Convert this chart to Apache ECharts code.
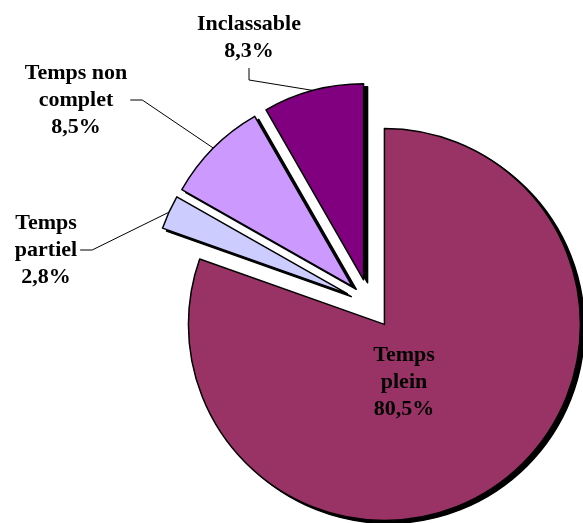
<!DOCTYPE html>
<html>
<head>
<meta charset="utf-8">
<style>html,body{margin:0;padding:0;background:#fff;}#c{width:583px;height:523px;}</style>
<script src="https://cdn.jsdelivr.net/npm/echarts@6/dist/echarts.min.js"></script>
</head>
<body>
<div id="c"></div>
<script>
const categories = ['Temps plein', 'Temps partiel', 'Temps non complet', 'Inclassable'];
const labelNames = ['Temps\nplein', 'Temps\npartiel', 'Temps non\ncomplet', 'Inclassable'];
const values = [80.5, 2.8, 8.5, 8.3];
const colors = ['#993366', '#CCCCFF', '#CC99FF', '#800080'];

// layout settings
const CX = 370, CY = 304, R = 196, EXPLODE = 25, SHX = 4, SHY = 3;
const labelPos = [[404, 382], [46, 250], [76, 100], [249, 38]];
const labelSide = ['inside', 'right', 'right', 'bottom'];
const LEN2 = 12;

const total = values.reduce((a, b) => a + b, 0);
let cum = 0;
const mids = values.map(v => { const m = (cum + v / 2) / total * 2 * Math.PI; cum += v; return m; });

function fmt(i) {
  return labelNames[i] + '\n' + values[i].toFixed(1).replace('.', ',') + '%';
}

function makeSeries(i, shadow) {
  const cx = CX + EXPLODE * Math.sin(mids[i]) + (shadow ? SHX : 0);
  const cy = CY - EXPLODE * Math.cos(mids[i]) + (shadow ? SHY : 0);
  return {
    type: 'pie',
    center: [cx, cy],
    radius: R,
    startAngle: 90,
    clockwise: true,
    silent: true,
    avoidLabelOverlap: false,
    emphasis: {disabled: true},
    label: {
      show: false,
      position: i === 0 ? 'inside' : 'outside',
      formatter: p => fmt(p.dataIndex),
      fontFamily: '"Liberation Serif", "Times New Roman", serif',
      fontWeight: 'bold',
      fontSize: 22,
      lineHeight: 27,
      color: '#000',
      align: 'center',
      padding: 3
    },
    labelLine: {
      show: false,
      length: 20,
      length2: LEN2,
      lineStyle: {color: '#000', width: 1}
    },
    labelLayout: p => {
      if (p.dataIndex !== i || shadow) return {};
      const x = labelPos[i][0], y = labelPos[i][1];
      const w = p.labelRect.width, h = p.labelRect.height;
      const out = {x: x, y: y, align: 'center', verticalAlign: 'middle'};
      if (p.labelLinePoints && labelSide[i] !== 'inside') {
        const p0 = p.labelLinePoints[0];
        let p1, p2;
        if (labelSide[i] === 'bottom') {
          p2 = [x, y + h / 2];
          p1 = [x, y + h / 2 + LEN2];
        } else {
          p2 = [x + w / 2, y];
          p1 = [x + w / 2 + LEN2, y];
        }
        out.labelLinePoints = [p0, p1, p2];
      }
      return out;
    },
    data: categories.map((c, j) => {
      const vis = j === i;
      return {
        name: c,
        value: values[j],
        itemStyle: vis
          ? {color: shadow ? '#000' : colors[j], borderColor: '#000', borderWidth: 1.5}
          : {color: 'rgba(0,0,0,0)', borderWidth: 0},
        label: {show: vis && !shadow},
        labelLine: {show: vis && !shadow && i !== 0}
      };
    })
  };
}

const series = [];
categories.forEach((c, i) => series.push(makeSeries(i, true)));
categories.forEach((c, i) => series.push(makeSeries(i, false)));

const chart = echarts.init(document.getElementById('c'), null, {renderer: 'canvas'});
chart.setOption({animation: false, series: series});
</script>
</body>
</html>
